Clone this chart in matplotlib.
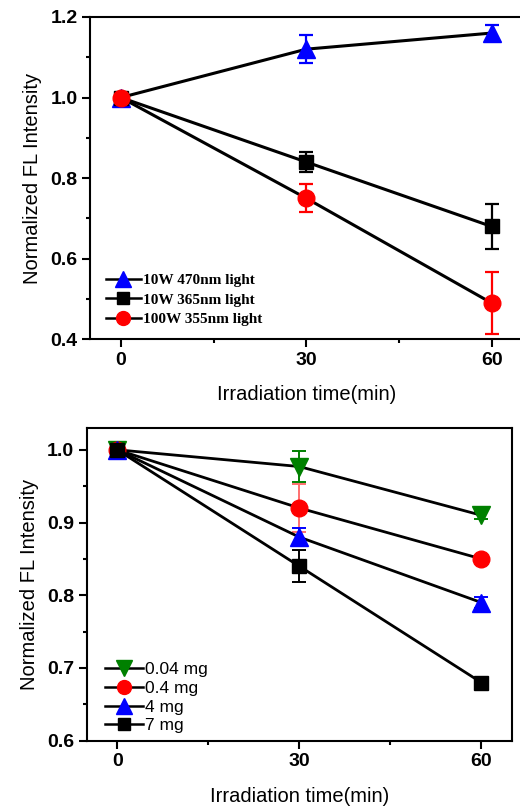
import matplotlib.pyplot as plt
from matplotlib.lines import Line2D
from matplotlib.ticker import MultipleLocator

plt.rcParams['font.family'] = ['Liberation Sans', 'DejaVu Sans']

# Data
time = [0, 30, 60]

# top panel: light sources
top_labels = ['10W 470nm light', '10W 365nm light', '100W 355nm light']
top_vals = [[1.0, 1.12, 1.16],
            [1.0, 0.84, 0.68],
            [1.0, 0.75, 0.49]]
top_errs = [[0.01, 0.035, 0.02],
            [0.01, 0.025, 0.057],
            [0.01, 0.035, 0.077]]
top_colors = ['#0000ff', '#000000', '#ff0000']
top_markers = ['^', 's', 'o']
top_msize = [13, 10, 12]

# bottom panel: amounts
bot_labels = ['0.04 mg', '0.4 mg', '4 mg', '7 mg']
bot_vals = [[1.0, 0.977, 0.91],
            [1.0, 0.92, 0.85],
            [1.0, 0.88, 0.79],
            [1.0, 0.84, 0.68]]
bot_errs = [[0.005, 0.021, 0.005],
            [0.005, 0.033, 0.003],
            [0.005, 0.012, 0.008],
            [0.005, 0.022, 0.004]]
bot_colors = ['#008000', '#ff0000', '#0000ff', '#000000']
bot_ecolors = ['#008000', '#ff7070', '#0000ff', '#000000']
bot_markers = ['v', 'o', '^', 's']
bot_msize = [13, 12, 13, 10]

fig = plt.figure(figsize=(5.2, 8.06), dpi=100)
ax1 = fig.add_axes([0.173, 0.579, 0.832, 0.4])
ax2 = fig.add_axes([0.167, 0.081, 0.817, 0.388])


def style(ax, ylim, major, minor):
    ax.set_xlim(-5, 65)
    ax.set_ylim(*ylim)
    ax.set_xticks(time)
    ax.xaxis.set_minor_locator(MultipleLocator(15))
    ax.yaxis.set_major_locator(MultipleLocator(major))
    ax.yaxis.set_minor_locator(MultipleLocator(minor))
    ax.tick_params(which='major', direction='out', length=6, width=1.5, labelsize=14, pad=3)
    ax.tick_params(which='minor', direction='out', length=3, width=1.5)
    for lab in ax.get_xticklabels() + ax.get_yticklabels():
        lab.set_fontweight('bold')
    for s in ax.spines.values():
        s.set_linewidth(1.5)
    ax.set_xlabel('Irradiation time(min)', fontsize=14.5, labelpad=12)
    ax.set_ylabel('Normalized FL Intensity', fontsize=14.5, labelpad=6)


def handles(colors, markers, sizes, labels):
    return [Line2D([], [], color='black', linewidth=1.8, marker=m, markersize=s,
                   markerfacecolor=c, markeredgecolor=c, label=l)
            for c, m, s, l in zip(colors, markers, sizes, labels)]


# top
for v, e, c, m, ms in zip(top_vals, top_errs, top_colors, top_markers, top_msize):
    ax1.errorbar(time, v, yerr=e, color='black', ecolor=c, elinewidth=1.6, capsize=5,
                 capthick=1.6, marker=m, markersize=ms, markerfacecolor=c,
                 markeredgecolor=c, linewidth=2.2)
style(ax1, (0.4, 1.2), 0.2, 0.1)
ax1.spines['right'].set_visible(False)
ax1.legend(handles=handles(top_colors, top_markers, [11, 9, 10], top_labels),
           loc='lower left', bbox_to_anchor=(0.012, 0.008), frameon=False,
           prop={'family': 'Liberation Serif', 'weight': 'bold', 'size': 11},
           handlelength=2.3, handletextpad=0.1, labelspacing=0.38, borderaxespad=0.3)

# bottom
for v, e, c, ec, m, ms in zip(bot_vals, bot_errs, bot_colors, bot_ecolors,
                              bot_markers, bot_msize):
    ax2.errorbar(time, v, yerr=e, color='black', ecolor=ec, elinewidth=1.4, capsize=5,
                 capthick=1.4, marker=m, markersize=ms, markerfacecolor=c,
                 markeredgecolor=c, linewidth=2.0)
style(ax2, (0.6, 1.03), 0.1, 0.05)
ax2.legend(handles=handles(bot_colors, bot_markers, [11, 10, 11, 9], bot_labels),
           loc='lower left', bbox_to_anchor=(0.014, -0.015), frameon=False,
           prop={'size': 12.5}, handlelength=2.2, handletextpad=0.1,
           labelspacing=0.2, borderaxespad=0.3)

fig.savefig('out.png', dpi=100)
